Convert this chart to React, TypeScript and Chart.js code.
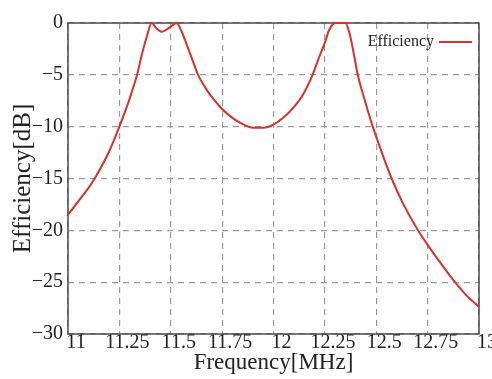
import React, { useEffect, useRef } from "react";
import { Chart, registerables } from "chart.js";

Chart.register(...registerables);

const frequency = [
  11, 11.05, 11.1, 11.13, 11.2, 11.25, 11.3, 11.336, 11.36, 11.385, 11.407, 11.43, 11.457, 11.49,
  11.529, 11.55, 11.58, 11.61, 11.633, 11.68, 11.71, 11.75, 11.8, 11.85, 11.9, 11.95, 12.0, 12.05,
  12.1, 12.144, 12.19, 12.22, 12.25, 12.27, 12.29, 12.3, 12.35, 12.37, 12.39, 12.41, 12.445,
  12.483, 12.52, 12.575, 12.63, 12.703, 12.75, 12.8, 12.883, 12.94, 13,
];
const efficiency = [
  -18.5, -17.2, -15.9, -15.0, -12.4, -10, -7.3, -5, -3, -1.2, 0, -0.5, -0.85, -0.5,
  0, -0.7, -2.2, -3.8, -5, -6.6, -7.4, -8.3, -9.15, -9.75, -10.1, -10.1, -9.8, -9.1,
  -8.1, -6.9, -5, -3.4, -1.9, -0.7, -0.1, 0, 0, -1.0, -2.9, -5, -7.5,
  -10, -12.1, -15, -17.4, -20, -21.4, -22.8, -25, -26.3, -27.4,
];
const seriesName = "Efficiency";
const xTitle = "Frequency[MHz]";
const yTitle = "Efficiency[dB]";
const xMin = 11, xMax = 13, xStep = 0.25;
const yMin = -30, yMax = 0, yStep = 5;

const RED = "#d8312a";
const FONT = "'Liberation Serif', 'Times New Roman', serif";

const framePlugin = {
  id: "frame",
  beforeDatasetsDraw(chart: any) {
    const { ctx, chartArea } = chart;
    ctx.save();
    ctx.strokeStyle = "#4a4a4a";
    ctx.lineWidth = 1.5;
    ctx.strokeRect(chartArea.left, chartArea.top, chartArea.right - chartArea.left, chartArea.bottom - chartArea.top);
    ctx.restore();
  },
};

const legendPlugin = {
  id: "innerLegend",
  afterDatasetsDraw(chart: any) {
    const { ctx, chartArea } = chart;
    const yMid = chartArea.top + 19;
    const lineEnd = chartArea.right - 7;
    const lineStart = lineEnd - 33;
    ctx.save();
    ctx.font = `16px ${FONT}`;
    ctx.fillStyle = "#222";
    ctx.textAlign = "right";
    ctx.textBaseline = "middle";
    ctx.fillText(seriesName, lineStart - 5, yMid);
    ctx.strokeStyle = RED;
    ctx.lineWidth = 2;
    ctx.beginPath();
    ctx.moveTo(lineStart, yMid);
    ctx.lineTo(lineEnd, yMid);
    ctx.stroke();
    ctx.restore();
  },
};

export default function App() {
  const ref = useRef<HTMLCanvasElement>(null);
  useEffect(() => {
    if (!ref.current) return;
    const chart = new Chart(ref.current, {
      type: "line",
      data: {
        datasets: [
          {
            label: seriesName,
            data: frequency.map((f, i) => ({ x: f, y: efficiency[i] })),
            borderColor: RED,
            borderWidth: 2,
            pointRadius: 0,
            cubicInterpolationMode: "monotone",
            clip: 4,
          } as any,
        ],
      },
      options: {
        animation: false,
        responsive: false,
        layout: { padding: { top: 23, right: 13, left: 0, bottom: 0 } },
        plugins: { legend: { display: false }, tooltip: { enabled: false } },
        scales: {
          x: {
            type: "linear",
            min: xMin,
            max: xMax,
            afterFit: (s: any) => { s.height = 45; },
            ticks: {
              stepSize: xStep,
              autoSkip: false,
              maxRotation: 0,
              padding: -3,
              labelOffset: 8,
              color: "#222",
              font: { family: FONT, size: 20 },
              callback: (v: any) => String(Number(v)),
            },
            grid: { color: "#9a9a9a", lineWidth: 1.2, drawTicks: false },
            border: { display: false, dash: [6, 5] },
            title: {
              display: true,
              text: xTitle,
              color: "#222",
              font: { family: FONT, size: 23 },
              padding: { top: 0, bottom: 2 },
            },
          },
          y: {
            type: "linear",
            min: yMin,
            max: yMax,
            afterFit: (s: any) => { s.width = 68; },
            ticks: {
              stepSize: yStep,
              padding: 5,
              color: "#222",
              font: { family: FONT, size: 20 },
              callback: (v: any) => String(Number(v)).replace("-", "\u2212"),
            },
            grid: { color: "#9a9a9a", lineWidth: 1.2, drawTicks: false },
            border: { display: false, dash: [6, 5] },
            title: {
              display: true,
              text: yTitle,
              color: "#222",
              font: { family: FONT, size: 25 },
              padding: { top: 8, bottom: 0 },
            },
          },
        },
      },
      plugins: [framePlugin, legendPlugin],
    });
    return () => chart.destroy();
  }, []);
  return (
    <div style={{ position: "absolute", left: 0, top: 0, width: 492, height: 379, background: "#fff" }}>
      <canvas ref={ref} width={492} height={379} style={{ display: "block" }} />
    </div>
  );
}
